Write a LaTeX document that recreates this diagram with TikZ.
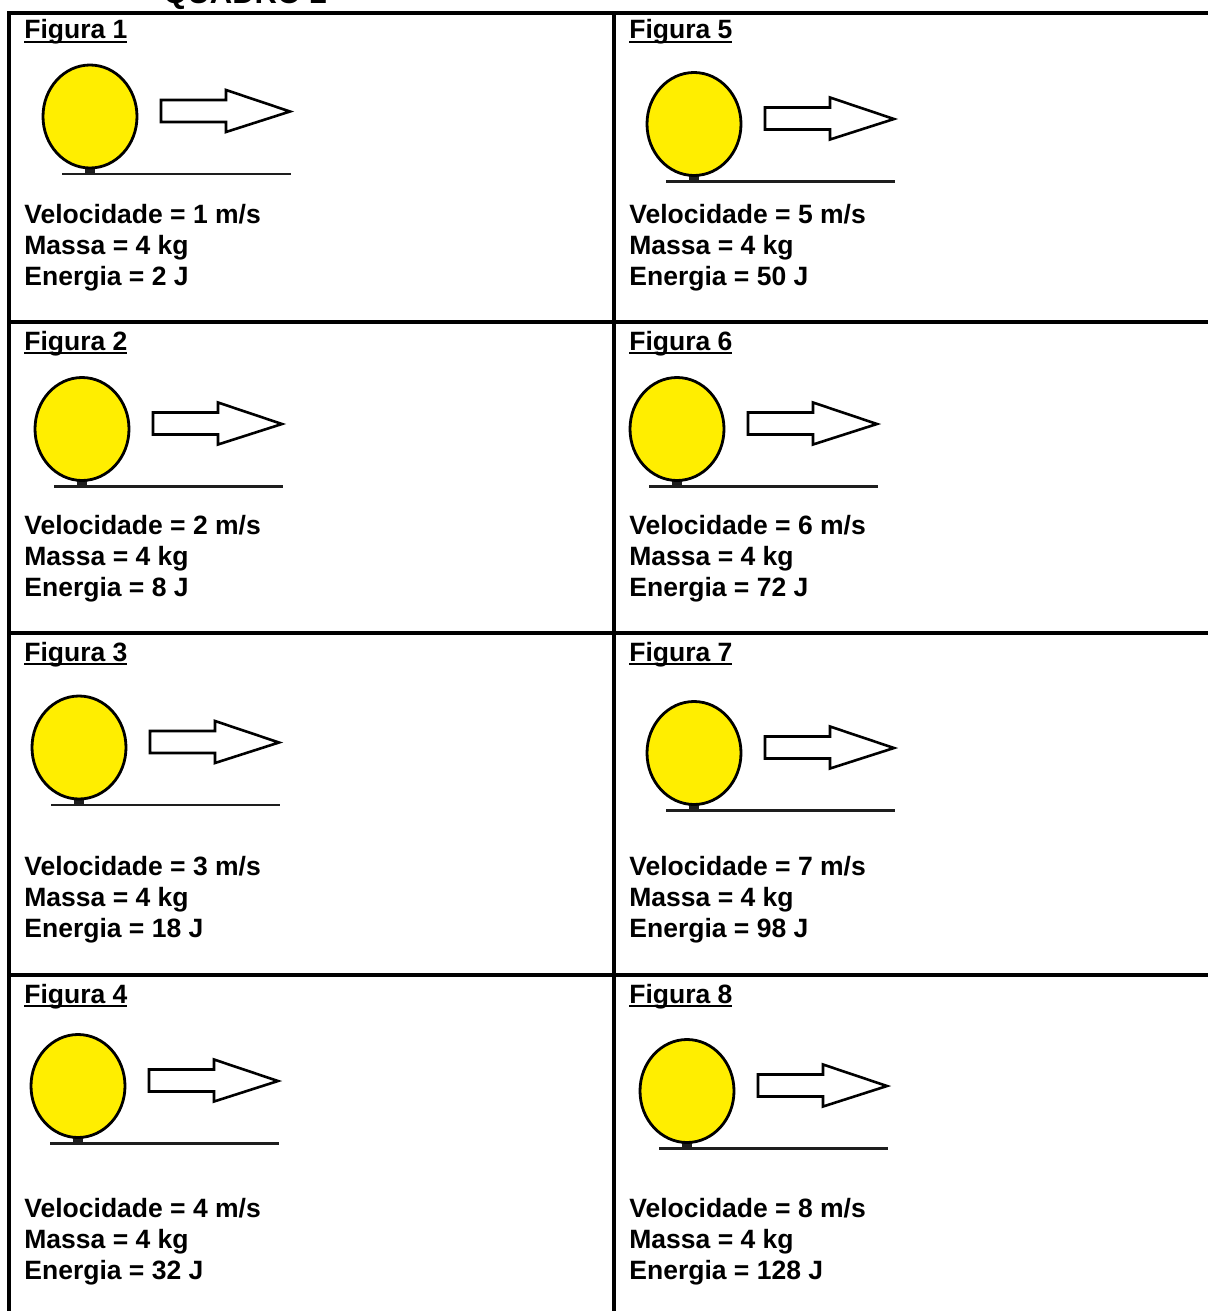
\documentclass[tikz,border=0pt]{standalone}
\usepackage{fontspec}
\setmainfont{Liberation Sans}
\usepackage{tikz}
\usetikzlibrary{positioning}
\usepackage{xcolor}
\definecolor{amarelo}{RGB}{255,238,0}
\definecolor{chao}{RGB}{30,30,30}

% underline that cuts through the descenders
\newcommand{\sublinha}[1]{\setbox0\hbox{#1}\rlap{\rule[-0.15em]{\wd0}{0.08em}}\box0}

\tikzset{
  grade/.style={line width=2pt, black},
  rotulo/.style={anchor=base west, inner sep=0pt, font=\fontsize{13.25}{15.5}\selectfont\bfseries},
  dados/.style={anchor=west, inner sep=0pt, align=left, font=\fontsize{13.25}{15.5}\selectfont\bfseries},
  bola/.pic={
    \fill[chao] (-5,51) rectangle (5,57.5);
    \draw[line width=1.4pt, chao] (-28,57.5) -- (201,57.5);
    \draw[line width=1.4pt, fill=amarelo] (0,0) ellipse [x radius=47, y radius=51.5];
    \draw[line width=1.3pt, fill=white, line join=miter]
      (71,-16.5) -- (136,-16.5) -- (136,-26.5) -- (200,-5) -- (136,15.5) -- (136,5.5) -- (71,5.5) -- cycle;
  }
}

\begin{document}
\begin{tikzpicture}[x=0.5pt, y=-0.5pt]
  \useasboundingbox (0,0) rectangle (1208,1311);
  \clip (0,0) rectangle (1208,1311);

  % Title
  \node[anchor=base west, inner sep=0pt, font=\fontsize{15.5}{18}\selectfont\bfseries] (titulo) at (163,3.5) {QUADRO 2};

  % Grid
  \draw[grade] (9,13) rectangle (1230,1340);
  \draw[grade] (614,13) -- (614,1340);
  \draw[grade] (9,322) -- (1230,322);
  \draw[grade] (9,633) -- (1230,633);
  \draw[grade] (9,975) -- (1230,975);

  % Left column
  \node[rotulo] (t1) at (24,39) {\sublinha{Figura 1}};
  \pic at (90,116.5) {bola};
  \node[dados] (d1) at (24,248) {Velocidade = 1 m/s\\ Massa = 4 kg\\ Energia = 2 J};

  \node[rotulo] (t2) at (24,350) {\sublinha{Figura 2}};
  \pic at (82,429) {bola};
  \node[dados] (d2) at (24,559) {Velocidade = 2 m/s\\ Massa = 4 kg\\ Energia = 8 J};

  \node[rotulo] (t3) at (24,661) {\sublinha{Figura 3}};
  \pic at (79,747.5) {bola};
  \node[dados] (d3) at (24,900) {Velocidade = 3 m/s\\ Massa = 4 kg\\ Energia = 18 J};

  \node[rotulo] (t4) at (24,1003) {\sublinha{Figura 4}};
  \pic at (78,1086) {bola};
  \node[dados] (d4) at (24,1242) {Velocidade = 4 m/s\\ Massa = 4 kg\\ Energia = 32 J};

  % Right column
  \node[rotulo] (t5) at (629,39) {\sublinha{Figura 5}};
  \pic at (694,124) {bola};
  \node[dados] (d5) at (629,248) {Velocidade = 5 m/s\\ Massa = 4 kg\\ Energia = 50 J};

  \node[rotulo] (t6) at (629,350) {\sublinha{Figura 6}};
  \pic at (677,429) {bola};
  \node[dados] (d6) at (629,559) {Velocidade = 6 m/s\\ Massa = 4 kg\\ Energia = 72 J};

  \node[rotulo] (t7) at (629,661) {\sublinha{Figura 7}};
  \pic at (694,753) {bola};
  \node[dados] (d7) at (629,900) {Velocidade = 7 m/s\\ Massa = 4 kg\\ Energia = 98 J};

  \node[rotulo] (t8) at (629,1003) {\sublinha{Figura 8}};
  \pic at (687,1091) {bola};
  \node[dados] (d8) at (629,1242) {Velocidade = 8 m/s\\ Massa = 4 kg\\ Energia = 128 J};
\end{tikzpicture}
\end{document}
